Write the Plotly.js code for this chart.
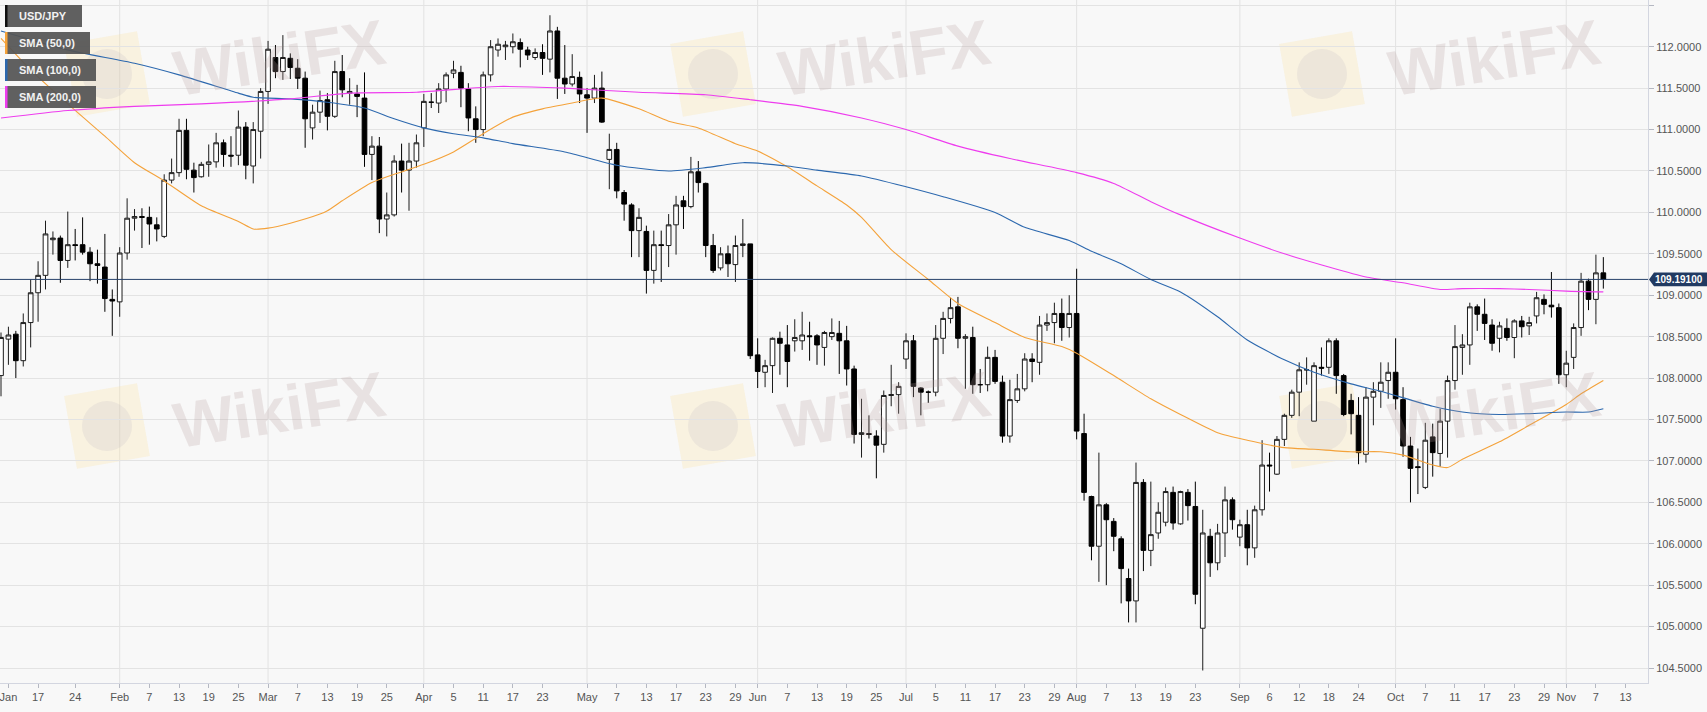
<!DOCTYPE html>
<html>
<head>
<meta charset="utf-8">
<script src="https://cdn.plot.ly/plotly-3.0.1.min.js"></script>
<style>
html,body{margin:0;padding:0;background:#f8f8f8;}
#chart{width:1707px;height:712px;}
</style>
</head>
<body>
<div id="chart"></div>
<script>
// ---------------- DATA ----------------
const symbol = 'USD/JPY';
const firstDay = '2019-01-10';
const axisLastDay = '2019-11-18';
const lastPrice = 109.191;
const lastPriceText = '109.19100';

const openP = [
108.03,108.47,108.53,108.21,108.67,109.03,109.24,109.67,109.69,109.42,109.61,109.61,109.52,109.38,109.34,108.95,
108.92,109.51,109.93,109.95,109.94,109.85,109.71,110.39,110.48,110.99,110.51,110.43,110.58,110.61,110.84,110.69,110.69,111.03,110.56,110.98,
111.46,111.87,111.70,111.86,111.74,111.62,111.02,111.21,111.36,111.16,111.70,111.44,111.43,111.38,110.70,110.80,109.92,109.97,110.62,110.51,110.62,
111.02,111.33,111.32,111.49,111.68,111.69,111.49,111.13,111.00,111.66,111.96,112.00,112.00,112.05,111.96,111.87,111.93,111.85,112.19,111.62,111.55,111.63,
111.42,111.38,111.50,110.64,110.76,110.24,110.09,109.78,109.77,109.30,109.61,109.60,109.85,110.14,110.07,110.49,110.35,109.60,109.33,109.50,109.37,109.60,109.62,
108.28,108.07,108.15,108.48,108.40,108.45,108.45,108.51,108.51,108.37,108.50,108.54,108.45,108.11,107.32,107.33,107.30,107.20,107.79,107.80,
108.23,108.45,107.88,107.83,107.83,108.48,108.72,108.86,108.48,108.49,107.92,107.92,108.25,107.95,107.30,107.73,107.87,108.23,108.19,108.64,108.67,108.78,108.61,
108.78,107.33,106.57,105.97,106.47,106.27,106.06,105.58,105.31,106.74,105.92,106.13,106.26,106.62,106.24,106.62,106.45,104.98,106.09,105.77,106.13,106.53,
106.08,106.23,105.95,106.41,106.95,106.84,107.26,107.55,107.83,108.10,107.48,108.13,108.13,108.45,108.03,107.73,107.55,107.08,107.77,107.84,107.97,
108.07,107.74,107.18,106.93,106.68,107.29,107.09,107.48,107.97,108.37,108.40,108.86,108.77,108.64,108.48,108.60,108.49,108.69,108.63,108.75,108.95,108.88,108.85,
108.04,108.25,108.61,109.17,108.95,109.27
];
const highP = [
108.55,108.62,108.57,108.78,109.19,109.41,109.90,109.77,109.72,110.01,109.80,109.94,109.58,109.55,109.74,109.07,
109.58,110.17,110.04,110.05,110.07,109.94,110.46,110.65,111.13,111.13,110.60,110.61,110.82,110.96,110.88,110.92,111.23,111.09,111.09,111.50,
112.07,112.02,112.14,111.92,111.85,111.70,111.30,111.47,111.44,111.83,111.90,111.62,111.54,111.69,110.92,110.91,110.24,110.69,110.83,110.84,110.94,
111.43,111.44,111.56,111.69,111.83,111.77,111.56,111.28,111.70,112.08,112.10,112.07,112.16,112.10,112.00,111.98,112.03,112.38,112.24,112.02,111.91,111.70,
111.50,111.66,111.70,110.95,110.84,110.27,110.11,110.05,109.84,109.78,109.78,109.98,110.20,110.20,110.67,110.62,110.36,109.74,109.58,109.60,109.72,109.92,109.62,
108.48,108.22,108.49,108.56,108.64,108.71,108.80,108.68,108.53,108.57,108.72,108.69,108.63,108.15,107.75,107.55,107.37,107.85,108.16,107.95,
108.54,108.52,107.89,107.85,108.64,108.80,108.97,108.98,108.53,108.62,108.11,108.38,108.34,108.03,107.98,108.05,108.30,108.30,108.75,108.78,108.91,108.96,109.00,
109.32,107.57,106.58,107.10,106.49,106.31,106.09,105.70,106.98,106.78,106.75,106.50,106.68,106.69,106.64,106.66,106.75,106.41,106.18,106.24,106.69,106.56,
106.29,106.41,106.46,107.25,107.10,107.30,107.57,107.86,108.19,108.25,108.19,108.37,108.48,108.48,108.05,107.81,107.77,107.89,107.95,108.19,108.19,
108.48,107.89,107.29,107.15,107.46,107.45,107.63,108.03,108.64,108.53,108.91,108.89,108.96,108.71,108.68,108.72,108.71,108.75,108.74,109.04,109.01,109.28,108.90,
108.33,108.66,109.27,109.20,109.49,109.46
];
const lowP = [
107.78,108.16,108.00,108.14,108.37,108.68,109.07,109.49,109.15,109.33,109.42,109.49,109.17,109.14,108.80,108.51,
108.74,109.43,109.78,109.57,109.61,109.65,109.69,110.35,110.43,110.40,110.24,110.42,110.43,110.54,110.55,110.55,110.57,110.40,110.35,110.65,
111.31,111.62,111.60,111.61,111.49,110.78,110.88,111.08,110.99,111.14,111.39,111.30,111.15,110.55,110.39,109.75,109.71,109.95,110.24,110.02,110.54,
110.79,111.26,111.20,111.33,111.62,111.27,110.98,110.84,110.92,111.58,111.88,111.84,111.92,111.75,111.84,111.84,111.66,111.69,111.37,111.43,111.52,111.32,
110.96,111.32,111.08,110.28,110.17,109.90,109.46,109.46,109.02,109.14,109.16,109.34,109.49,109.80,110.05,110.24,109.46,109.27,109.30,109.22,109.16,109.46,108.23,
107.88,107.89,107.82,108.04,107.89,108.32,108.34,108.21,108.16,108.15,108.46,108.05,107.91,107.21,107.04,107.27,106.79,107.10,107.66,107.57,
108.11,107.77,107.55,107.70,107.78,108.29,108.66,108.36,107.87,107.81,107.82,107.84,107.93,107.22,107.22,107.70,107.84,107.95,108.04,108.57,108.42,108.45,108.49,
107.26,106.52,105.80,105.54,105.50,105.91,105.28,105.05,105.05,105.67,105.73,106.06,106.21,106.17,106.23,106.28,105.27,104.47,105.60,105.68,105.84,106.17,
105.97,105.74,105.83,106.34,106.63,106.83,107.18,107.52,107.54,107.92,107.48,108.03,108.05,107.81,107.54,107.32,106.96,106.98,107.43,107.64,107.75,
107.62,107.05,106.50,106.60,106.66,106.81,106.93,107.04,107.86,108.04,108.16,108.57,108.46,108.33,108.31,108.45,108.24,108.49,108.52,108.66,108.77,108.73,107.93,
107.89,108.11,108.51,108.82,108.65,109.08
];
const closeP = [
108.49,108.52,108.21,108.67,109.03,109.24,109.74,109.69,109.42,109.61,109.60,109.52,109.38,109.36,108.96,108.93,
109.51,109.93,109.95,109.94,109.86,109.80,110.39,110.48,110.99,110.52,110.42,110.58,110.61,110.84,110.70,110.68,111.03,110.57,111.00,111.46,
111.97,111.70,111.87,111.75,111.62,111.13,111.21,111.35,111.16,111.70,111.48,111.46,111.40,110.70,110.80,109.92,109.97,110.62,110.51,110.62,110.84,
111.34,111.33,111.49,111.66,111.72,111.50,111.14,111.00,111.66,112.00,112.03,112.02,112.06,111.97,111.90,111.93,111.86,112.19,111.62,111.55,111.64,111.43,
111.38,111.50,111.09,110.76,110.26,110.10,109.78,109.94,109.30,109.61,109.60,109.85,110.09,110.07,110.49,110.36,109.60,109.30,109.50,109.38,109.60,109.62,108.27,
108.08,108.15,108.48,108.42,108.20,108.49,108.52,108.50,108.40,108.55,108.55,108.45,108.11,107.32,107.34,107.32,107.19,107.79,107.80,107.90,
108.45,107.90,107.83,107.83,108.48,108.72,108.85,108.48,108.50,107.92,107.92,108.25,107.96,107.30,107.74,107.87,108.23,108.20,108.64,108.67,108.78,108.61,108.78,
107.36,106.62,105.97,106.47,106.29,106.09,105.70,105.31,106.74,105.92,106.11,106.38,106.63,106.25,106.63,106.46,105.39,106.13,105.77,106.13,106.53,106.29,
106.23,105.95,106.41,106.95,106.94,107.26,107.55,107.83,108.10,108.10,108.15,108.12,108.45,108.03,107.56,107.57,107.10,107.77,107.84,107.95,108.07,
107.75,107.18,106.91,106.92,107.25,107.10,107.48,107.97,108.38,108.40,108.86,108.77,108.66,108.42,108.63,108.49,108.69,108.62,108.67,108.97,108.89,108.86,108.04,
108.18,108.61,109.17,108.95,109.27,109.19
];

const sma50Dates = ['2019-01-10','2019-01-16','2019-01-23','2019-01-30','2019-02-05','2019-02-11','2019-02-18','2019-02-25','2019-02-27','2019-03-01','2019-03-06','2019-03-12','2019-03-13','2019-03-15','2019-03-21','2019-03-26','2019-04-01','2019-04-05','2019-04-11','2019-04-17','2019-04-23','2019-04-29','2019-05-03','2019-05-10','2019-05-16','2019-05-22','2019-05-29','2019-06-03','2019-06-07','2019-06-13','2019-06-19','2019-06-21','2019-06-27','2019-07-04','2019-07-10','2019-07-17','2019-07-23','2019-07-30','2019-08-01','2019-08-08','2019-08-15','2019-08-21','2019-08-28','2019-09-03','2019-09-10','2019-09-16','2019-09-23','2019-09-27','2019-10-02','2019-10-08','2019-10-10','2019-10-14','2019-10-21','2019-10-25','2019-11-01','2019-11-05','2019-11-08'];
const sma50Vals = [112.10,111.72,111.31,110.92,110.60,110.38,110.08,109.89,109.80,109.81,109.87,109.98,110.02,110.14,110.36,110.46,110.58,110.73,110.95,111.15,111.25,111.32,111.38,111.25,111.10,111.02,110.83,110.74,110.55,110.32,110.09,109.94,109.55,109.19,108.90,108.67,108.49,108.38,108.30,108.03,107.75,107.56,107.34,107.25,107.16,107.14,107.11,107.11,107.07,106.95,106.92,107.02,107.23,107.43,107.68,107.81,107.97];

const sma100Dates = ['2019-01-10','2019-01-23','2019-02-05','2019-02-13','2019-02-25','2019-02-27','2019-03-06','2019-03-13','2019-03-20','2019-03-26','2019-04-01','2019-04-05','2019-04-11','2019-04-17','2019-04-26','2019-05-07','2019-05-16','2019-05-23','2019-05-30','2019-06-07','2019-06-13','2019-06-21','2019-07-01','2019-07-08','2019-07-17','2019-07-23','2019-07-31','2019-08-05','2019-08-09','2019-08-15','2019-08-21','2019-08-28','2019-09-03','2019-09-10','2019-09-16','2019-09-23','2019-09-27','2019-10-08','2019-10-14','2019-10-21','2019-10-25','2019-11-01','2019-11-06','2019-11-08'];
const sma100Vals = [112.19,111.96,111.80,111.66,111.44,111.39,111.37,111.33,111.26,111.13,111.02,110.95,110.90,110.83,110.73,110.57,110.50,110.54,110.60,110.56,110.51,110.44,110.31,110.19,110.00,109.82,109.66,109.53,109.38,109.19,109.04,108.74,108.46,108.22,108.07,107.93,107.84,107.66,107.59,107.56,107.57,107.59,107.59,107.63];

const sma200Dates = ['2019-01-10','2019-01-23','2019-02-05','2019-02-18','2019-03-06','2019-03-18','2019-03-29','2019-04-15','2019-04-26','2019-05-10','2019-05-23','2019-05-31','2019-06-11','2019-06-21','2019-07-01','2019-07-10','2019-07-19','2019-08-01','2019-08-08','2019-08-15','2019-08-21','2019-09-02','2019-09-10','2019-09-18','2019-09-25','2019-10-02','2019-10-09','2019-10-14','2019-10-21','2019-10-25','2019-11-01','2019-11-08'];
const sma200Vals = [111.14,111.23,111.28,111.31,111.37,111.44,111.45,111.52,111.50,111.45,111.42,111.36,111.28,111.14,111.00,110.80,110.65,110.48,110.35,110.13,109.97,109.69,109.50,109.34,109.22,109.15,109.07,109.08,109.08,109.07,109.05,109.04];

const tickDates = ['2019-01-11','2019-01-17','2019-01-24','2019-02-01','2019-02-07','2019-02-13','2019-02-19','2019-02-25','2019-03-01','2019-03-07','2019-03-13','2019-03-19','2019-03-25','2019-04-01','2019-04-05','2019-04-11','2019-04-17','2019-04-23','2019-05-01','2019-05-07','2019-05-13','2019-05-17','2019-05-23','2019-05-29','2019-06-03','2019-06-07','2019-06-13','2019-06-19','2019-06-25','2019-07-01','2019-07-05','2019-07-11','2019-07-17','2019-07-23','2019-07-29','2019-08-01','2019-08-07','2019-08-13','2019-08-19','2019-08-23','2019-09-02','2019-09-06','2019-09-12','2019-09-18','2019-09-24','2019-10-01','2019-10-07','2019-10-11','2019-10-17','2019-10-23','2019-10-29','2019-11-01','2019-11-07','2019-11-13'];
const tickLabels = ['Jan','17','24','Feb','7','13','19','25','Mar','7','13','19','25','Apr','5','11','17','23','May','7','13','17','23','29','Jun','7','13','19','25','Jul','5','11','17','23','29','Aug','7','13','19','23','Sep','6','12','18','24','Oct','7','11','17','23','29','Nov','7','13'];
const monthStarts = ['2019-02-01','2019-03-01','2019-04-01','2019-05-01','2019-06-03','2019-07-01','2019-08-01','2019-09-02','2019-10-01','2019-11-01'];

const legendItems = ['USD/JPY','SMA (50,0)','SMA (100,0)','SMA (200,0)'];
const colors = {sma50:'#f4a23a', sma100:'#2c68ae', sma200:'#ee3cee', price:'#27416a'};
const legendColors = ['#111111', colors.sma50, colors.sma100, colors.sma200];

// ---------------- BUILD ----------------
function weekdays(a, b){
  const out = [];
  let d = new Date(a + 'T00:00:00Z');
  const e = new Date(b + 'T00:00:00Z');
  while (d <= e){
    const w = d.getUTCDay();
    if (w !== 0 && w !== 6) out.push(d.toISOString().slice(0,10));
    d = new Date(d.getTime() + 86400000);
  }
  return out;
}
const axisDates = weekdays(firstDay, axisLastDay);
const idx = d => axisDates.indexOf(d);
const candleX = openP.map((_, i) => i);

const W = 1707, H = 712, M = {l:0, r:59, t:0, b:29};
const PW = W - M.l - M.r, PH = H - M.t - M.b;
const px = x => x / PW;
const py = y => 1 - y / PH;

const font = 'Liberation Sans, Arial, sans-serif';

const traces = [
  {
    type:'candlestick', x:candleX, open:openP, high:highP, low:lowP, close:closeP,
    increasing:{line:{color:'#1c1c1c', width:1}, fillcolor:'#ffffff'},
    decreasing:{line:{color:'#000000', width:1}, fillcolor:'#000000'},
    whiskerwidth:0, hoverinfo:'skip', showlegend:false, name:symbol
  },
  {type:'scatter', mode:'lines', x:sma50Dates.map(idx), y:sma50Vals, line:{color:colors.sma50, width:1.1, shape:'spline', smoothing:0.6}, hoverinfo:'skip', showlegend:false},
  {type:'scatter', mode:'lines', x:sma100Dates.map(idx), y:sma100Vals, line:{color:colors.sma100, width:1.1, shape:'spline', smoothing:0.6}, hoverinfo:'skip', showlegend:false},
  {type:'scatter', mode:'lines', x:sma200Dates.map(idx), y:sma200Vals, line:{color:colors.sma200, width:1.1, shape:'spline', smoothing:0.6}, hoverinfo:'skip', showlegend:false}
];

const shapes = [];
const annotations = [];

// month grid lines
monthStarts.forEach(d => shapes.push({type:'line', xref:'x', yref:'paper', x0:idx(d), x1:idx(d), y0:0, y1:1, line:{color:'#e2e2e2', width:1}, layer:'below'}));

// watermarks
const wmCols = [67, 673, 1282], wmRows = [34, 386];
wmRows.forEach(ry => wmCols.forEach(cx0 => {
  const cx = cx0 + 40, cy = ry + 40, h = 37, a = -10 * Math.PI / 180;
  const pts = [[-h,-h],[h,-h],[h,h],[-h,h]].map(([u,v]) => [cx + u*Math.cos(a) - v*Math.sin(a), cy + u*Math.sin(a) + v*Math.cos(a)]);
  shapes.push({type:'path', xref:'paper', yref:'paper', layer:'below',
    path:'M' + pts.map(p => px(p[0]).toFixed(5) + ',' + py(p[1]).toFixed(5)).join(' L') + ' Z',
    fillcolor:'rgba(250,228,160,0.28)', line:{width:0}});
  shapes.push({type:'circle', xref:'paper', yref:'paper', layer:'below',
    x0:px(cx-25), x1:px(cx+25), y0:py(cy+25), y1:py(cy-25),
    fillcolor:'rgba(175,165,185,0.16)', line:{width:0}});
  annotations.push({xref:'paper', yref:'paper', x:px(cx0+212), y:py(ry+24), xanchor:'center', yanchor:'middle',
    text:'WikiFX', showarrow:false,
    textangle:-9, font:{family:font, size:64, color:'rgba(185,160,160,0.24)', weight:'bold'}});
}));

// price line + label
shapes.push({type:'line', xref:'paper', yref:'y', x0:0, x1:1, y0:lastPrice, y1:lastPrice, line:{color:colors.price, width:1}});
const pxUnit = PH / (112.564 - 104.319);
const halfH = 6.8 / pxUnit;
shapes.push({type:'path', xref:'paper', yref:'y',
  path:`M ${1+px(1)},${lastPrice} L ${1+px(6)},${lastPrice+halfH} L ${1+px(59)},${lastPrice+halfH} L ${1+px(59)},${lastPrice-halfH} L ${1+px(6)},${lastPrice-halfH} Z`,
  fillcolor:'#213a62', line:{width:0}});
annotations.push({xref:'paper', yref:'y', x:1+px(6), y:lastPrice, xanchor:'left', yanchor:'middle', text:'<b>'+lastPriceText+'</b>', showarrow:false, borderpad:0, font:{family:font, size:10, color:'#ffffff'}});

// legend boxes
const legBoxes = [[5,82,5,27],[5,90,32,54],[5,96,59,81],[5,96,86,108]];
legBoxes.forEach((b, i) => {
  shapes.push({type:'rect', xref:'paper', yref:'paper', x0:px(b[0]), x1:px(b[1]), y0:py(b[3]), y1:py(b[2]), fillcolor:'rgba(84,84,84,0.93)', line:{width:0}});
  shapes.push({type:'rect', xref:'paper', yref:'paper', x0:px(b[0]), x1:px(b[0]+2.5), y0:py(b[3]), y1:py(b[2]), fillcolor:legendColors[i], line:{width:0}});
  annotations.push({xref:'paper', yref:'paper', x:px(17), y:py((b[2]+b[3])/2), xanchor:'left', yanchor:'middle', text:'<b>'+legendItems[i]+'</b>', showarrow:false, font:{family:font, size:11, color:'#f2f2f2'}});
});

const layout = {
  width:W, height:H, margin:M,
  paper_bgcolor:'#f8f8f8', plot_bgcolor:'#f8f8f8',
  boxgap:0.37, boxgroupgap:0,
  showlegend:false, hovermode:false, dragmode:false,
  xaxis:{
    range:[-0.135, idx(axisLastDay)+0.02], tickmode:'array', tickvals:tickDates.map(idx), ticktext:tickLabels,
    showgrid:false, zeroline:false, ticks:'outside', ticklen:4, tickcolor:'#b5b8c2',
    tickfont:{family:font, size:11, color:'#555555'}, showline:true, linecolor:'#d3d6e0', mirror:true,
    ticklabeloverflow:'allow', rangeslider:{visible:false}, fixedrange:true
  },
  yaxis:{
    side:'right', range:[104.319, 112.564], tick0:104.5, dtick:0.5, tickformat:'.4f',
    showgrid:true, gridcolor:'#e3e3e3', gridwidth:1, zeroline:false,
    ticks:'outside', ticklen:5, tickcolor:'#b5b8c2',
    tickfont:{family:font, size:11, color:'#555555'}, showline:true, linecolor:'#d3d6e0', mirror:true, fixedrange:true
  },
  shapes:shapes, annotations:annotations
};

Plotly.newPlot('chart', traces, layout, {displayModeBar:false, staticPlot:true});
</script>
</body>
</html>
